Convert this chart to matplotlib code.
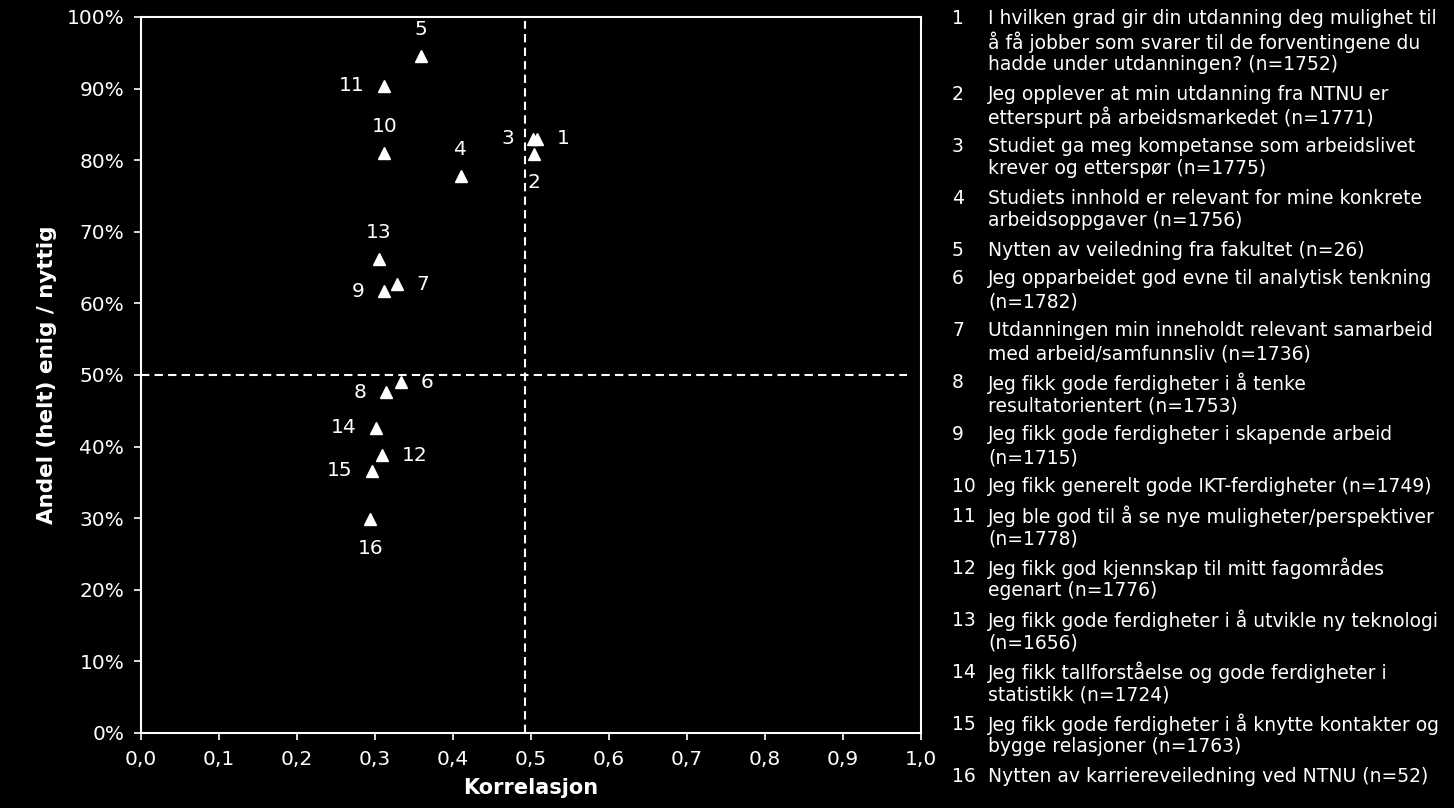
import matplotlib
matplotlib.use("Agg")
import matplotlib.pyplot as plt

# data
ids = [1, 2, 3, 4, 5, 6, 7, 8, 9, 10, 11, 12, 13, 14, 15, 16]
korrelasjon = [0.508, 0.504, 0.503, 0.410, 0.359, 0.333, 0.328, 0.314, 0.312,
               0.312, 0.312, 0.309, 0.305, 0.301, 0.296, 0.294]
andel = [0.830, 0.809, 0.830, 0.778, 0.946, 0.490, 0.627, 0.476, 0.617,
         0.810, 0.904, 0.388, 0.662, 0.426, 0.366, 0.299]
label_side = ["right", "below", "left", "above", "above", "right", "right", "left",
              "left", "above", "left", "right", "above", "left", "left", "below"]

x_ticks = [0.0, 0.1, 0.2, 0.3, 0.4, 0.5, 0.6, 0.7, 0.8, 0.9, 1.0]
y_ticks = [0.0, 0.1, 0.2, 0.3, 0.4, 0.5, 0.6, 0.7, 0.8, 0.9, 1.0]
x_split = 0.492
y_split = 0.5

spoersmaal = [
    ["I hvilken grad gir din utdanning deg mulighet til",
     "å få jobber som svarer til de forventingene du",
     "hadde under utdanningen? (n=1752)"],
    ["Jeg opplever at min utdanning fra NTNU er",
     "etterspurt på arbeidsmarkedet (n=1771)"],
    ["Studiet ga meg kompetanse som arbeidslivet",
     "krever og etterspør (n=1775)"],
    ["Studiets innhold er relevant for mine konkrete",
     "arbeidsoppgaver (n=1756)"],
    ["Nytten av veiledning fra fakultet (n=26)"],
    ["Jeg opparbeidet god evne til analytisk tenkning",
     "(n=1782)"],
    ["Utdanningen min inneholdt relevant samarbeid",
     "med arbeid/samfunnsliv (n=1736)"],
    ["Jeg fikk gode ferdigheter i å tenke",
     "resultatorientert (n=1753)"],
    ["Jeg fikk gode ferdigheter i skapende arbeid",
     "(n=1715)"],
    ["Jeg fikk generelt gode IKT-ferdigheter (n=1749)"],
    ["Jeg ble god til å se nye muligheter/perspektiver",
     "(n=1778)"],
    ["Jeg fikk god kjennskap til mitt fagområdes",
     "egenart (n=1776)"],
    ["Jeg fikk gode ferdigheter i å utvikle ny teknologi",
     "(n=1656)"],
    ["Jeg fikk tallforståelse og gode ferdigheter i",
     "statistikk (n=1724)"],
    ["Jeg fikk gode ferdigheter i å knytte kontakter og",
     "bygge relasjoner (n=1763)"],
    ["Nytten av karriereveiledning ved NTNU (n=52)"],
]

W, H = 1454, 808
plt.rcParams['font.family'] = ['DejaVu Sans']
fig = plt.figure(figsize=(W / 100, H / 100), dpi=100, facecolor='black')
ax = fig.add_axes([141 / W, 1 - 733 / H, 780 / W, 716 / H])
ax.set_facecolor('black')

ax.plot(korrelasjon, andel, linestyle='none', marker='^', color='white',
        markersize=9, zorder=3)

offsets = {"right": (14, 0, 'left'), "left": (-14, 0, 'right'),
           "above": (0, 19, 'center'), "below": (0, -21, 'center')}
for i, xv, yv, side in zip(ids, korrelasjon, andel, label_side):
    dx, dy, ha = offsets[side]
    ax.annotate(str(i), (xv, yv), xytext=(dx, dy), textcoords='offset points',
                ha=ha, va='center', color='white', fontsize=14.5)

ax.axvline(x_split, color='white', linestyle=(0, (4, 2.5)), linewidth=1.5,
           ymax=0.995, zorder=2)
ax.axhline(y_split, color='white', linestyle=(0, (4, 2.5)), linewidth=1.5,
           xmax=0.982, zorder=2)

ax.set_xlim(0, 1)
ax.set_ylim(0, 1)
ax.set_xticks(x_ticks)
ax.set_xticklabels([f"{v:.1f}".replace('.', ',') for v in x_ticks])
ax.set_yticks(y_ticks)
ax.set_yticklabels([f"{v:.0%}" for v in y_ticks])
ax.tick_params(colors='white', labelsize=14.5, length=5, width=1.2, direction='out')
ax.tick_params(axis='x', pad=7)
ax.tick_params(axis='y', pad=7)
for s in ax.spines.values():
    s.set_color('white')
    s.set_linewidth(1.5)

ax.set_xlabel("Korrelasjon", color='white', fontsize=15, fontweight='bold', labelpad=7)
ax.set_ylabel("Andel (helt) enig / nyttig", color='white', fontsize=15.5,
              fontweight='bold', labelpad=7)

# numbered list on the right
line_h = 23
gap = 6
y = 19
for i, lines in zip(ids, spoersmaal):
    fig.text(952 / W, 1 - y / H, str(i), color='white', fontsize=13.5,
             ha='left', va='center')
    for k, line in enumerate(lines):
        fig.text(988 / W, 1 - (y + k * line_h) / H, line, color='white',
                 fontsize=13.5, ha='left', va='center')
    y += len(lines) * line_h + gap

fig.savefig("out.png", dpi=100, facecolor='black')
